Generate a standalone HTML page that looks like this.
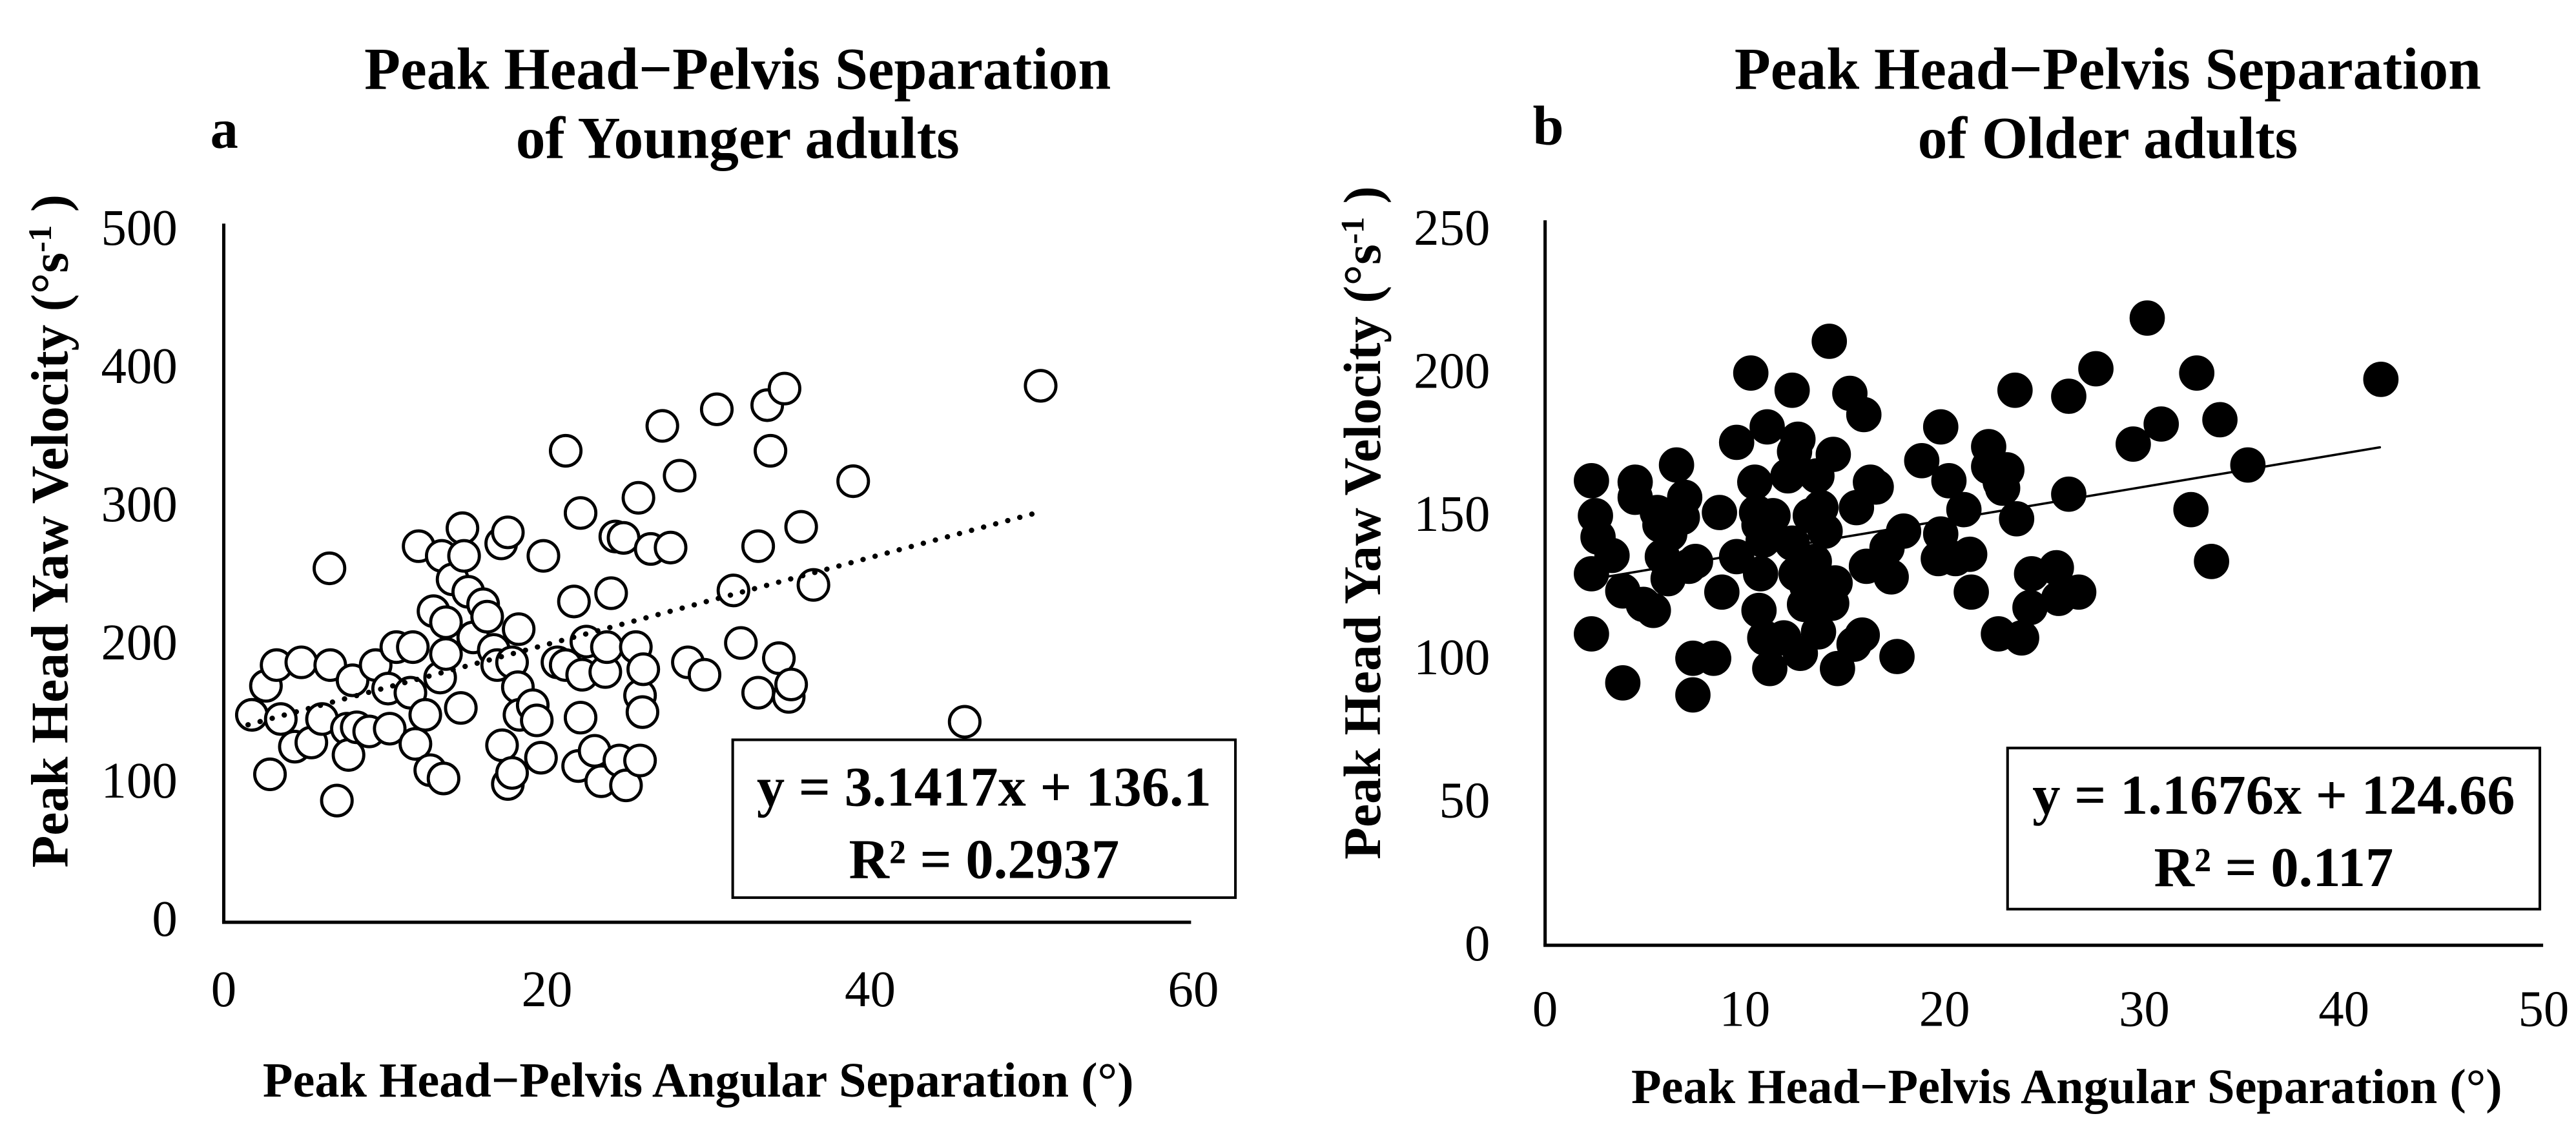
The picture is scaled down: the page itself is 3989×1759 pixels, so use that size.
<!DOCTYPE html>
<html><head><meta charset="utf-8"><style>
html,body{margin:0;padding:0;background:#fff;}
svg{display:block;}
text{font-family:"Liberation Serif",serif;fill:#000;}
</style></head><body>
<svg id="fig" width="3989" height="1759" viewBox="0 0 1568 691" preserveAspectRatio="none" xmlns="http://www.w3.org/2000/svg">
<g>
<text x="128" y="90" font-size="34" font-weight="bold">a</text>
<text x="449" y="54" font-size="36" font-weight="bold" text-anchor="middle">Peak Head−Pelvis Separation</text>
<text x="449" y="96" font-size="36" font-weight="bold" text-anchor="middle">of Younger adults</text>
<text transform="translate(41,323) rotate(-90)" font-size="32" font-weight="bold" text-anchor="middle">Peak Head Yaw Velocity (°s<tspan font-size="20" dy="-10">-1</tspan><tspan dy="10"> )</tspan></text>
<text x="425" y="667" font-size="30" font-weight="bold" text-anchor="middle">Peak Head−Pelvis Angular Separation (°)</text>
<g id="plotA"></g>
<rect x="446" y="450" width="306" height="96" fill="#fff" stroke="#000" stroke-width="1.6"/>
<text x="599" y="490" font-size="34" font-weight="bold" text-anchor="middle">y = 3.1417x + 136.1</text>
<text x="599" y="534" font-size="34" font-weight="bold" text-anchor="middle">R² = 0.2937</text>
</g>
<g>
<text x="933" y="88" font-size="34" font-weight="bold">b</text>
<text x="1283" y="54" font-size="36" font-weight="bold" text-anchor="middle">Peak Head−Pelvis Separation</text>
<text x="1283" y="96" font-size="36" font-weight="bold" text-anchor="middle">of Older adults</text>
<text transform="translate(840,318) rotate(-90)" font-size="32" font-weight="bold" text-anchor="middle">Peak Head Yaw Velocity (°s<tspan font-size="20" dy="-10">-1</tspan><tspan dy="10"> )</tspan></text>
<text x="1258" y="671" font-size="30" font-weight="bold" text-anchor="middle">Peak Head−Pelvis Angular Separation (°)</text>
<g id="plotB"></g>
<rect x="1222" y="455" width="324" height="98" fill="#fff" stroke="#000" stroke-width="1.6"/>
<text x="1384" y="495" font-size="34" font-weight="bold" text-anchor="middle">y = 1.1676x + 124.66</text>
<text x="1384" y="539" font-size="34" font-weight="bold" text-anchor="middle">R² = 0.117</text>
</g>
</svg>
<script>
// Panel a data (younger adults)
const youngX = [1.74,2.61,3.27,3.53,2.86,4.40,4.80,5.42,6.08,6.54,6.59,7.00,7.62,7.72,7.97,8.23,9.00,9.40,10.27,10.17,10.68,11.55,11.70,11.86,12.06,12.47,12.78,12.98,13.49,13.60,13.75,13.39,13.75,14.16,14.67,14.77,14.87,15.13,15.44,16.05,16.30,16.71,16.92,17.17,17.22,17.58,17.58,17.84,17.84,18.25,18.20,18.30,19.12,19.37,19.63,19.78,20.65,21.16,21.16,21.67,21.93,22.08,22.08,22.18,22.44,22.95,23.36,23.61,23.71,23.97,24.23,24.48,24.74,24.89,25.50,25.66,25.76,25.76,25.91,25.96,26.42,27.14,27.65,28.21,28.72,29.75,30.51,31.54,32.00,33.07,33.07,33.63,33.83,34.35,34.70,34.96,35.11,35.73,36.49,38.95,45.85,50.55];
const youngY = [148,169,184,145,105,125,186,128,145,254,184,86,138,119,173,139,136,184,138,167,197,164,197,127,270,148,108,223,263,102,215,175,192,246,153,283,263,237,204,228,219,195,184,272,126,280,98,106,186,210,168,148,155,144,117,263,186,184,339,230,111,294,146,177,201,122,100,179,197,236,277,115,276,97,197,305,162,115,150,181,268,357,269,321,186,177,369,238,200,270,164,372,339,189,384,161,170,284,242,317,143,386];
const youngSlope = 3.1417, youngIntercept = 136.1;
const youngTrendRange = [1.5, 50.5];
const youngXTicks = [0,20,40,60];
const youngYTicks = [0,100,200,300,400,500];
// Panel b data (older adults)
const oldX = [2.32,2.52,2.65,3.35,2.32,2.32,3.89,3.89,4.51,4.51,4.92,5.42,5.62,5.75,5.87,6.16,6.24,6.58,6.87,6.99,7.20,7.40,7.40,7.53,8.44,8.73,8.85,9.59,9.59,10.30,10.50,10.59,10.71,10.79,10.71,10.92,11.00,11.12,11.25,11.41,11.95,12.16,12.37,12.37,12.49,12.57,12.66,12.78,12.99,13.11,13.28,13.48,13.61,13.69,13.81,14.02,14.23,14.35,14.43,14.52,14.64,15.26,15.47,15.59,15.88,15.96,16.09,16.29,16.58,17.12,17.33,17.62,17.95,18.86,19.69,19.81,19.81,20.22,20.55,20.97,21.26,21.34,22.21,22.21,22.70,22.79,22.91,23.12,23.53,23.61,23.86,24.28,24.36,25.60,25.72,26.22,26.22,26.72,27.58,29.45,30.15,30.85,32.34,32.63,33.37,33.79,35.19,41.85];
const oldY = [161.8,149.6,142.1,135.7,129.3,108.3,123.3,91.2,161.3,156.0,118.6,116.5,150.7,146.4,135.3,127.6,143.2,167.3,149.0,156.0,131.9,99.8,87.0,133.6,99.8,150.7,122.9,175.2,135.3,199.4,161.3,150.7,146.4,129.3,116.5,141.0,106.9,180.6,96.2,149.6,106.9,163.5,193.4,140.0,172.0,129.3,176.3,101.5,118.6,125.0,149.6,133.6,163.5,109.0,152.4,144.2,210.5,119.0,171.0,126.1,96.2,192.3,104.7,152.4,107.9,184.9,131.9,161.3,159.6,138.3,128.2,100.4,144.2,168.8,134.6,180.6,143.2,161.8,134.6,151.7,136.1,122.9,173.7,166.7,108.3,161.3,159.2,165.6,193.4,148.5,106.9,117.5,129.3,131.4,120.7,191.3,157.1,122.9,200.9,174.6,218.6,181.6,151.7,199.4,133.6,183.1,167.3,197.2];
const oldSlope = 1.1676, oldIntercept = 124.66;
const oldTrendRange = [2.0, 41.8];
const oldXTicks = [0,10,20,30,40,50];
const oldYTicks = [0,50,100,150,200,250];

const NS = "http://www.w3.org/2000/svg";
function mk(parent, tag, attrs) {
  const el = document.createElementNS(NS, tag);
  for (const k in attrs) el.setAttribute(k, attrs[k]);
  parent.appendChild(el);
  return el;
}

function drawPanel(cfg) {
  const g = document.getElementById(cfg.id);
  const sx = v => cfg.x0 + v / cfg.xMax * (cfg.x1 - cfg.x0);
  const sy = v => cfg.y0 - v / cfg.yMax * (cfg.y0 - cfg.y1);
  const ya = mk(g, "line", {x1: cfg.x0, y1: cfg.axisTop, x2: cfg.x0, y2: cfg.axisY, stroke: "#000", "stroke-width": 2});
  
  
  const xa = mk(g, "line", {x1: cfg.x0 - 1, y1: cfg.axisY, x2: cfg.axisRight, y2: cfg.axisY, stroke: "#000", "stroke-width": 2});
  
  
  cfg.xTicks.forEach(t => {
    const tx = mk(g, "text", {x: sx(t), y: cfg.xLabelY, "font-size": 31, "text-anchor": "middle"});
    tx.textContent = t;
    
    
  });
  cfg.yTicks.forEach(t => {
    const tx = mk(g, "text", {x: cfg.yLabelX, y: sy(t) + 10, "font-size": 31, "text-anchor": "end"});
    tx.textContent = t;
    
    
  });
  cfg.xs.forEach((xv, i) => {
    const c = mk(g, "circle", {cx: sx(xv), cy: sy(cfg.ys[i]), r: cfg.r,
      fill: cfg.filled ? "#000" : "#fff", stroke: "#000", "stroke-width": 1.9});
    
    
  });
  const [a, b] = cfg.range;
  const ln = mk(g, "line", {x1: sx(a), y1: sy(cfg.m * a + cfg.c), x2: sx(b), y2: sy(cfg.m * b + cfg.c),
    stroke: "#000", "stroke-width": cfg.dotted ? 3.2 : 1.4,
    "stroke-dasharray": cfg.dotted ? "0.1 7.5" : "none", "stroke-linecap": "round"});
  
  
}

drawPanel({id: "plotA", p: "panel-a", x0: 136.2, x1: 726.4, xMax: 60, y0: 559.3, y1: 138.8, yMax: 500,
  axisTop: 136, axisY: 561, axisRight: 725, xLabelY: 612, yLabelX: 108,
  xTicks: youngXTicks, yTicks: youngYTicks, xs: youngX, ys: youngY, r: 9.3, filled: false,
  m: youngSlope, c: youngIntercept, range: youngTrendRange, dotted: true});
drawPanel({id: "plotB", p: "panel-b", x0: 940.5, x1: 1548.3, xMax: 50, y0: 574.2, y1: 138.8, yMax: 250,
  axisTop: 134, axisY: 575, axisRight: 1548, xLabelY: 624, yLabelX: 907,
  xTicks: oldXTicks, yTicks: oldYTicks, xs: oldX, ys: oldY, r: 9.8, filled: true,
  m: oldSlope, c: oldIntercept, range: oldTrendRange, dotted: false});
</script>
</body></html>
